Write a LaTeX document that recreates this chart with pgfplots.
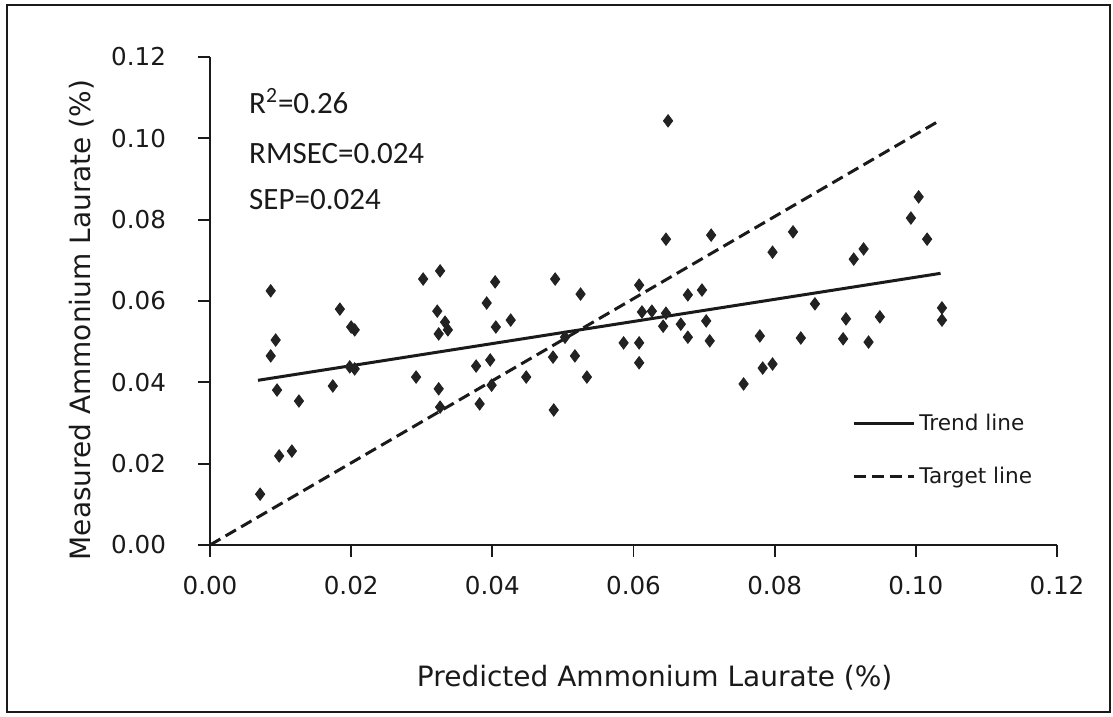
\documentclass[border=0pt]{standalone}
\usepackage{fontspec}
\setmainfont{DejaVu Sans}
\newfontfamily\carlito{Carlito}
\usepackage{pgfplots}
\pgfplotsset{compat=1.18}
\definecolor{ink}{HTML}{1A1A1A}
\definecolor{mk}{HTML}{222222}
\begin{document}
\begin{tikzpicture}
\useasboundingbox (0,0) rectangle (556.5pt,358.5pt);
\draw[line width=0.8pt, ink] (3.5pt,2.5pt) rectangle (555pt,356pt);
\begin{axis}[
  at={(105pt,86pt)}, anchor=south west,
  scale only axis, width=423.5pt, height=244pt,
  xmin=0, xmax=0.12, ymin=0, ymax=0.12,
  axis lines=left, axis line style={-, line width=0.9pt, ink},
  tick align=outside, major tick length=6pt, tick style={line width=0.9pt, ink},
  xtick={0,0.02,0.04,0.06,0.08,0.1,0.12},
  xticklabels={0.00,0.02,0.04,0.06,0.08,0.10,0.12},
  ytick={0,0.02,0.04,0.06,0.08,0.1,0.12},
  yticklabels={0.00,0.02,0.04,0.06,0.08,0.10,0.12},
  scaled ticks=false,
  ticklabel style={font=\fontsize{12.3}{14}\selectfont, text=ink},
  xticklabel style={yshift=-6pt},
  yticklabel style={xshift=-12.5pt},
  xlabel={Predicted Ammonium Laurate (\%)},
  ylabel={Measured Ammonium Laurate (\%)},
  label style={font=\fontsize{14}{16}\selectfont, text=ink},
  xlabel style={at={(axis description cs:0.525,-0.2725)}, anchor=center},
  ylabel style={at={(axis description cs:-0.151,0.461)}, anchor=center},
  clip=false,
  legend style={at={(axis description cs:0.758,0.278)}, anchor=north west, draw=none, fill=none,
    font=\fontsize{10.8}{13}\selectfont, text=ink, inner sep=0pt, row sep=13pt,
    /tikz/every even column/.append style={column sep=4pt}},
  legend cell align=left,
  legend image code/.code={\draw[#1] (0pt,0pt) -- (30pt,0pt);},
]
\addplot[only marks, mark=diamond*, mark size=3.1pt, mark options={fill=mk, draw=mk}, forget plot] coordinates {
(0.0071,0.0125) (0.0086,0.0625) (0.0093,0.0504) (0.0086,0.0465) (0.0095,0.0381)
(0.0098,0.0219) (0.0116,0.0231) (0.0126,0.0354) (0.0184,0.0580) (0.0200,0.0536)
(0.0205,0.0529) (0.0174,0.0391) (0.0198,0.0438) (0.0205,0.0433) (0.0302,0.0654)
(0.0326,0.0674) (0.0322,0.0575) (0.0333,0.0548) (0.0337,0.0529) (0.0324,0.0519)
(0.0292,0.0413) (0.0324,0.0384) (0.0326,0.0339) (0.0404,0.0647) (0.0392,0.0595)
(0.0405,0.0536) (0.0377,0.0440) (0.0397,0.0455) (0.0399,0.0393) (0.0382,0.0347)
(0.0426,0.0553) (0.0489,0.0654) (0.0525,0.0617) (0.0448,0.0413) (0.0486,0.0462)
(0.0487,0.0332) (0.0517,0.0465) (0.0534,0.0413) (0.0503,0.0511) (0.0608,0.0639)
(0.0612,0.0573) (0.0626,0.0575) (0.0646,0.0570) (0.0642,0.0538) (0.0667,0.0543)
(0.0677,0.0615) (0.0697,0.0627) (0.0703,0.0551) (0.0677,0.0511) (0.0708,0.0502)
(0.0586,0.0497) (0.0608,0.0497) (0.0608,0.0448) (0.0756,0.0396) (0.0649,0.1043)
(0.0646,0.0752) (0.0710,0.0762) (0.0826,0.0770) (0.0797,0.0720) (0.0912,0.0703)
(0.0926,0.0728) (0.1004,0.0856) (0.0993,0.0804) (0.1016,0.0752) (0.0857,0.0593)
(0.0901,0.0556) (0.0949,0.0561) (0.1037,0.0583) (0.1037,0.0553) (0.0779,0.0514)
(0.0837,0.0509) (0.0897,0.0507) (0.0933,0.0499) (0.0783,0.0435) (0.0797,0.0445)
};
\addplot[ink, line width=1.5pt] coordinates {(0.0068,0.0405) (0.1035,0.0668)};
\addlegendentry{Trend line}
\addplot[ink, line width=1.5pt, dash pattern=on 6pt off 3pt] coordinates {(0,0) (0.1035,0.1045)};
\addlegendentry{Target line}
\node[anchor=base west, inner sep=0pt, font=\carlito\fontsize{15.5}{18}\selectfont, text=ink] at (axis cs:0.0055,0.1062) {R\textsuperscript{2}=0.26};
\node[anchor=base west, inner sep=0pt, font=\carlito\fontsize{15.5}{18}\selectfont, text=ink] at (axis cs:0.0055,0.0939) {RMSEC=0.024};
\node[anchor=base west, inner sep=0pt, font=\carlito\fontsize{15.5}{18}\selectfont, text=ink] at (axis cs:0.0055,0.0824) {SEP=0.024};
\end{axis}
\end{tikzpicture}
\end{document}
